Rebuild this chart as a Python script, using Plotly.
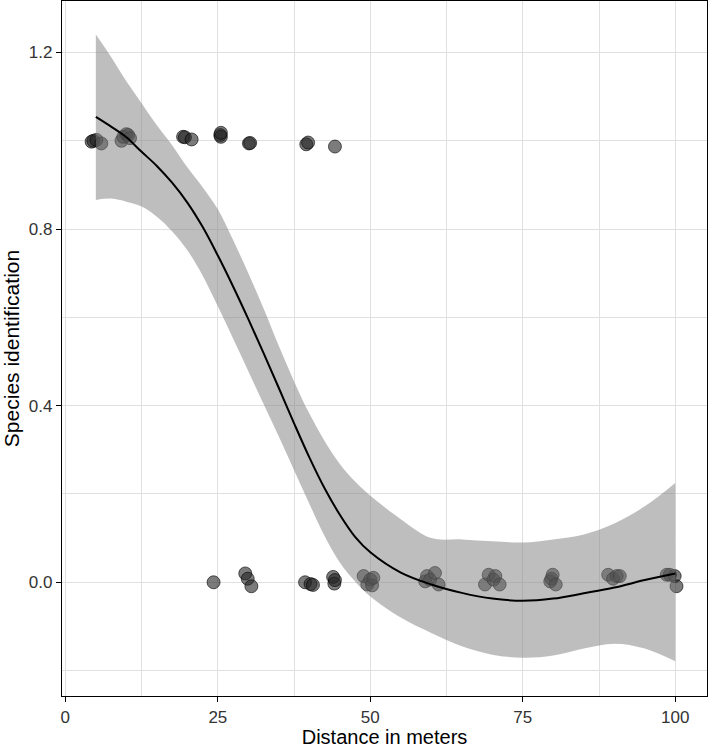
import plotly.graph_objects as go

# ---- data ----
top_x = [4.3, 4.6, 5.1, 5.9, 9.2, 9.5, 10.0, 10.3, 10.6, 19.3, 19.6, 20.7,
         25.4, 25.5, 25.5, 30.1, 30.3, 39.5, 39.8, 44.2]
top_y = [0.998, 1.000, 1.002, 0.994, 1.000, 1.009, 1.015, 1.013, 1.006, 1.009, 1.008, 1.003,
         1.013, 1.009, 1.018, 0.994, 0.995, 0.992, 0.996, 0.987]

bot_x = [24.3, 29.5, 29.9, 30.5, 39.3, 40.2, 40.6, 43.9, 44.1, 44.2,
         48.9, 49.5, 50.0, 50.3, 50.5,
         59.0, 59.3, 59.8, 60.6, 61.2,
         68.8, 69.4, 70.2, 70.5, 71.2,
         79.5, 79.7, 79.9, 80.4,
         89.0, 89.8, 90.4, 90.9,
         98.6, 99.1, 99.9, 100.2]
bot_y = [0.000, 0.020, 0.008, -0.009, 0.000, -0.004, -0.006, 0.012, -0.003, 0.005,
         0.014, -0.005, 0.006, -0.007, 0.010,
         0.002, 0.014, 0.006, 0.021, -0.005,
         -0.005, 0.017, 0.006, 0.014, -0.005,
         0.002, 0.008, 0.017, -0.005,
         0.017, 0.008, 0.014, 0.014,
         0.017, 0.017, 0.014, -0.009]

fit_x = [5, 7.5, 10, 12.5, 15, 17.5, 20, 22.5, 25, 27.5, 30, 32.5, 35, 37.5, 40,
         42.5, 45, 47.5, 50, 55, 60, 65, 70, 75, 80, 85, 90, 95, 100]
fit_y = [1.054, 1.032, 1.008, 0.975, 0.943, 0.905, 0.860, 0.805, 0.740, 0.670, 0.596,
         0.519, 0.440, 0.360, 0.283, 0.213, 0.153, 0.103, 0.068, 0.022, -0.005,
         -0.024, -0.037, -0.042, -0.037, -0.025, -0.012, 0.005, 0.020]
fit_hi = [1.241, 1.190, 1.135, 1.085, 1.035, 0.990, 0.940, 0.895, 0.845, 0.775, 0.700,
          0.620, 0.535, 0.455, 0.382, 0.320, 0.268, 0.228, 0.196, 0.143, 0.100,
          0.097, 0.093, 0.090, 0.097, 0.108, 0.133, 0.172, 0.225]
fit_lo = [0.866, 0.869, 0.862, 0.851, 0.828, 0.795, 0.752, 0.695, 0.625, 0.552, 0.478,
          0.404, 0.330, 0.254, 0.178, 0.105, 0.045, 0.002, -0.032, -0.080, -0.115,
          -0.145, -0.164, -0.171, -0.166, -0.150, -0.139, -0.150, -0.179]

x_ticks = [0, 25, 50, 75, 100]
y_ticks = [0.0, 0.4, 0.8, 1.2]
y_tick_labels = ["0.0", "0.4", "0.8", "1.2"]

marker = dict(size=13, color="rgba(35,35,35,0.6)",
              line=dict(color="rgba(0,0,0,0.6)", width=1))

fig = go.Figure()
fig.add_trace(go.Scatter(x=top_x + bot_x, y=top_y + bot_y, mode="markers",
                         marker=marker, hoverinfo="skip", showlegend=False))
fig.add_trace(go.Scatter(x=fit_x, y=fit_hi, mode="lines", line=dict(width=0, shape="spline"),
                         showlegend=False, hoverinfo="skip"))
fig.add_trace(go.Scatter(x=fit_x, y=fit_lo, mode="lines", line=dict(width=0, shape="spline"),
                         fill="tonexty", fillcolor="rgba(125,125,125,0.5)",
                         showlegend=False, hoverinfo="skip"))
fig.add_trace(go.Scatter(x=fit_x, y=fit_y, mode="lines",
                         line=dict(color="black", width=2, shape="spline"),
                         showlegend=False, hoverinfo="skip"))

font_family = "Liberation Sans, Arial, sans-serif"
grid_col = "#e0e0e0"

fig.update_layout(
    width=709, height=748,
    margin=dict(l=62, r=2, t=1, b=52),
    paper_bgcolor="white", plot_bgcolor="white",
    font=dict(family=font_family, color="black"),
    xaxis=dict(
        range=[-0.55, 105.2], tickvals=x_ticks, ticktext=[str(v) for v in x_ticks],
        showgrid=True, gridcolor=grid_col, gridwidth=1,
        minor=dict(dtick=12.5, tick0=0, showgrid=True, gridcolor=grid_col, gridwidth=1),
        showline=True, linecolor="black", linewidth=1.2, mirror=True,
        ticks="outside", ticklen=5, tickcolor="black", tickwidth=1.2,
        ticklabelstandoff=0,
        tickfont=dict(size=17, color="#333333"),
        title=dict(text="Distance in meters", font=dict(size=20, color="black"), standoff=2),
        zeroline=False,
    ),
    yaxis=dict(
        range=[-0.2576, 1.3166], tickvals=y_ticks, ticktext=y_tick_labels,
        showgrid=True, gridcolor=grid_col, gridwidth=1,
        minor=dict(dtick=0.2, tick0=0, showgrid=True, gridcolor=grid_col, gridwidth=1),
        showline=True, linecolor="black", linewidth=1.2, mirror=True,
        ticks="outside", ticklen=5, tickcolor="black", tickwidth=1.2,
        tickfont=dict(size=17, color="#333333"),
        title=dict(text="Species identification", font=dict(size=21, color="black"), standoff=6),
        zeroline=False,
    ),
)

fig.write_html("out.html", config={"displayModeBar": False},
               post_script="document.body.style.margin='0';document.body.style.overflow='hidden';")
